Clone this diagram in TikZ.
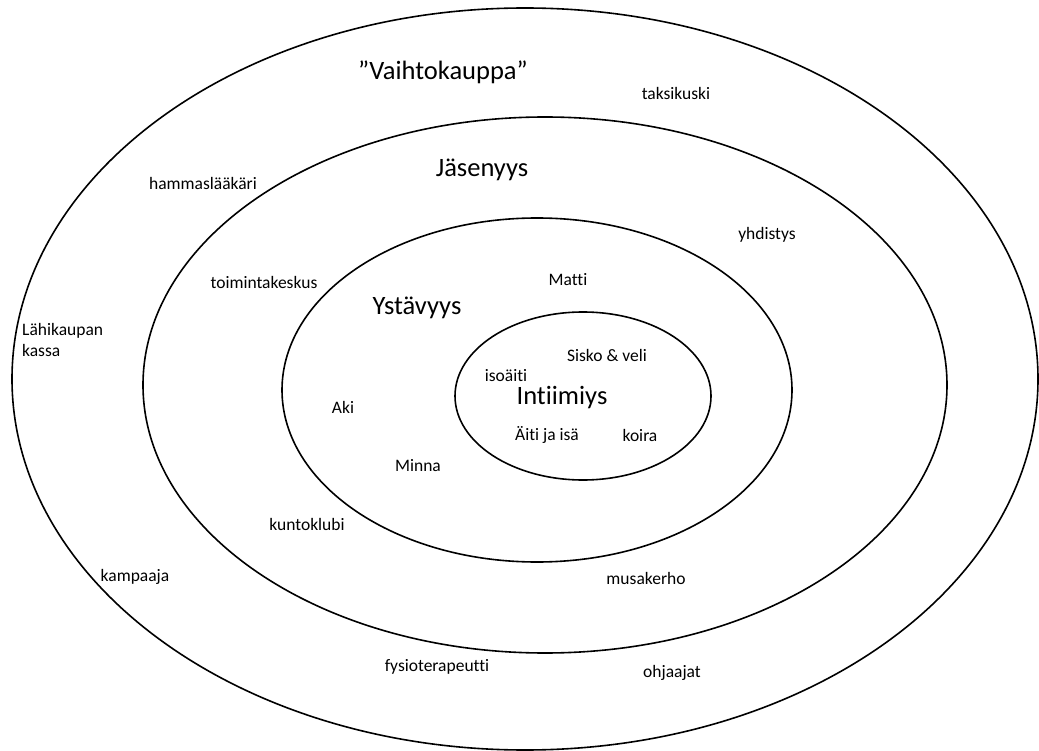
\documentclass[tikz,border=0pt]{standalone}
\usepackage{fontspec}
\setmainfont{Carlito}[Ligatures=CommonOff]
\usetikzlibrary{positioning}

\tikzset{
  ring/.style={draw=black, line width=1.6pt},
  tag/.style={font=\fontsize{17.5}{21}\selectfont, inner sep=0pt},
  level/.style={font=\fontsize{26.5}{30}\selectfont, inner sep=0pt}
}

\begin{document}
\begin{tikzpicture}[x=1pt, y=-1pt]
  \useasboundingbox (0,0) rectangle (1039,751);

  % Rings
  \draw[ring] (525,379) ellipse (513 and 371);
  \draw[ring] (545,385) ellipse (402 and 268);
  \draw[ring] (537,390) ellipse (255 and 172);
  \draw[ring] (583,396) ellipse (128 and 84);

  % Levels
  \node[level] (vaihto) at (443,72) {”Vaihtokauppa”};
  \node[level] (jasen) at (482,170) {Jäsenyys};
  \node[level] (ystav) at (417,308) {Ystävyys};
  \node[level] (intiim) at (562,398) {Intiimiys};

  % Outer ring
  \node[tag] (taksi) at (676,93) {taksikuski};
  \node[tag] (hammas) at (203,183) {hammaslääkäri};
  \node[tag, align=left, anchor=west] (kassa) at (22,340) {Lähikaupan\\kassa};
  \node[tag] (kampaaja) at (135,577) {kampaaja};
  \node[tag] (fysio) at (437,667) {fysioterapeutti};
  \node[tag] (ohjaajat) at (672,673) {ohjaajat};

  % Second ring
  \node[tag] (yhdistys) at (767,235) {yhdistys};
  \node[tag] (toiminta) at (264,282) {toimintakeskus};
  \node[tag] (kunto) at (307,524) {kuntoklubi};
  \node[tag] (musa) at (646,578) {musakerho};

  % Third ring
  \node[tag] (matti) at (568,280) {Matti};
  \node[tag] (aki) at (343,407) {Aki};
  \node[tag] (minna) at (418,466) {Minna};

  % Inner ring
  \node[tag] (sisko) at (607,355) {Sisko \& veli};
  \node[tag] (isoaiti) at (506,376) {isoäiti};
  \node[tag] (vanhemmat) at (547,435) {Äiti ja isä};
  \node[tag] (koira) at (640,435) {koira};
\end{tikzpicture}
\end{document}
